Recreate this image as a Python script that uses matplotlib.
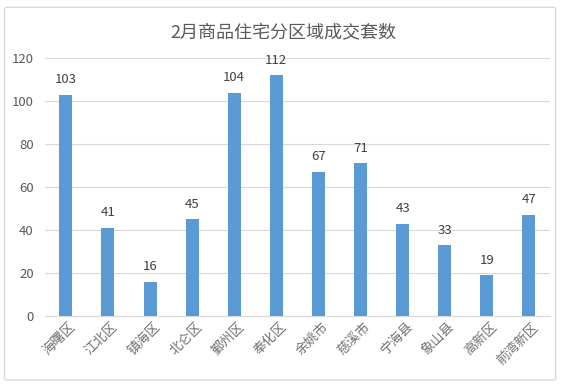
import matplotlib.pyplot as plt
from matplotlib.patches import FancyBboxPatch

plt.rcParams['font.family'] = ['Noto Sans CJK SC', 'DejaVu Sans']

districts = ['海曙区', '江北区', '镇海区', '北仑区', '鄞州区', '奉化区',
             '余姚市', '慈溪市', '宁海县', '象山县', '高新区', '前湾新区']
deals = [103, 41, 16, 45, 104, 112, 67, 71, 43, 33, 19, 47]

fig = plt.figure(figsize=(5.67, 3.85), dpi=100)
# 外框
fig.patches.append(FancyBboxPatch((0.008, 0.013), 0.972, 0.968,
                                  boxstyle='round,pad=0,rounding_size=0.005',
                                  transform=fig.transFigure, fill=False,
                                  edgecolor='#D9D9D9', linewidth=1))

ax = fig.add_axes([0.079, 0.179, 0.891, 0.670])
x = range(len(deals))
bars = ax.bar(x, deals, width=0.31, color='#5B9BD5', zorder=3)
for xi, v in zip(x, deals):
    ax.text(xi, v + 4, str(v), ha='center', va='bottom', fontsize=9.5, color='#404040')

ax.set_xlim(-0.5, len(deals) - 0.5)
ax.set_ylim(0, 120)
ax.set_yticks(range(0, 121, 20))
ax.yaxis.grid(True, color='#D9D9D9', linewidth=0.8, zorder=0)
for s in ['top', 'right', 'left']:
    ax.spines[s].set_visible(False)
ax.spines['bottom'].set_color('#D9D9D9')
ax.tick_params(axis='y', length=0, labelsize=9.5, labelcolor='#595959', pad=8)
ax.tick_params(axis='x', length=0, labelsize=9.5, labelcolor='#707070', pad=3)
ax.set_xticks([xi + 0.08 for xi in x])
ax.set_xticklabels(districts, rotation=45, ha='right', rotation_mode='anchor')

fig.text(0.5, 0.915, '2月商品住宅分区域成交套数', ha='center', va='center',
         fontsize=13, color='#595959')

fig.savefig('out.png', dpi=100)
